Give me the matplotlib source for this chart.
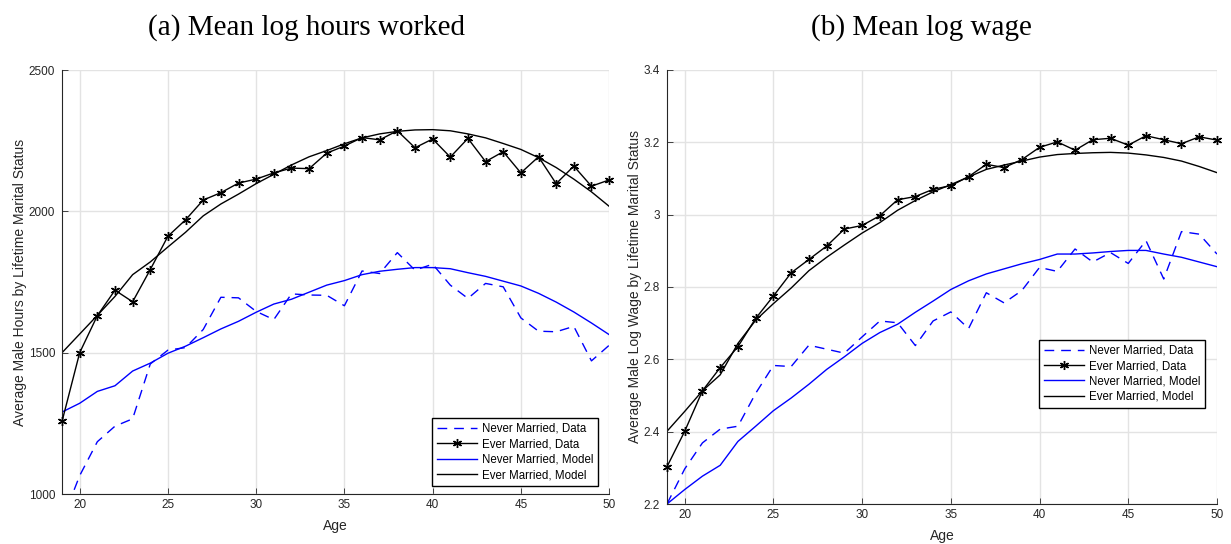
import matplotlib.pyplot as plt
import numpy as np

ages = np.arange(19, 51)

# panel (a): hours worked
hours_never_data = [905, 1065, 1185, 1240, 1266, 1460, 1509, 1518, 1582, 1696, 1694,
                    1646, 1617, 1708, 1704, 1703, 1666, 1789, 1780, 1854, 1792, 1813,
                    1739, 1692, 1745, 1733, 1623, 1576, 1574, 1593, 1471, 1526]
hours_ever_data = [1257, 1500, 1631, 1721, 1680, 1794, 1912, 1970, 2040, 2066, 2100,
                   2114, 2136, 2153, 2151, 2206, 2231, 2261, 2253, 2285, 2225, 2256,
                   2192, 2258, 2176, 2211, 2136, 2193, 2098, 2160, 2089, 2111]
hours_never_model = [1290, 1321, 1363, 1383, 1435, 1463, 1498, 1523, 1553, 1584, 1611,
                     1643, 1672, 1689, 1714, 1739, 1755, 1776, 1788, 1795, 1801, 1801,
                     1797, 1783, 1770, 1753, 1736, 1710, 1679, 1644, 1605, 1564]
hours_ever_model = [1500, 1566, 1632, 1699, 1776, 1821, 1874, 1926, 1984, 2026, 2061,
                    2098, 2131, 2164, 2193, 2215, 2239, 2260, 2274, 2283, 2288, 2289,
                    2285, 2274, 2260, 2240, 2219, 2190, 2155, 2114, 2069, 2018]

# panel (b): log wage
wage_never_data = [2.200, 2.297, 2.369, 2.407, 2.415, 2.506, 2.583, 2.580, 2.639, 2.628,
                   2.617, 2.662, 2.706, 2.701, 2.638, 2.706, 2.731, 2.685, 2.784, 2.756,
                   2.790, 2.854, 2.843, 2.905, 2.869, 2.895, 2.865, 2.928, 2.822, 2.953,
                   2.946, 2.891]
wage_ever_data = [2.303, 2.401, 2.513, 2.577, 2.635, 2.713, 2.775, 2.839, 2.876, 2.913,
                  2.960, 2.970, 2.997, 3.041, 3.050, 3.070, 3.080, 3.105, 3.139, 3.130,
                  3.152, 3.186, 3.201, 3.178, 3.207, 3.211, 3.192, 3.218, 3.207, 3.196,
                  3.215, 3.206]
wage_never_model = [2.200, 2.240, 2.277, 2.307, 2.373, 2.415, 2.458, 2.493, 2.531, 2.572,
                    2.607, 2.644, 2.674, 2.697, 2.730, 2.761, 2.793, 2.817, 2.836, 2.850,
                    2.864, 2.876, 2.891, 2.891, 2.894, 2.898, 2.901, 2.901, 2.891, 2.882,
                    2.869, 2.856]
wage_ever_model = [2.401, 2.456, 2.513, 2.557, 2.644, 2.708, 2.754, 2.797, 2.845, 2.882,
                   2.916, 2.949, 2.978, 3.012, 3.039, 3.063, 3.083, 3.104, 3.125, 3.137,
                   3.148, 3.159, 3.166, 3.169, 3.171, 3.172, 3.170, 3.165, 3.158, 3.148,
                   3.133, 3.116]

labels = ['Never Married, Data', 'Ever Married, Data',
          'Never Married, Model', 'Ever Married, Model']

plt.rcParams['font.family'] = ['Liberation Sans', 'DejaVu Sans']

fig = plt.figure(figsize=(12.31, 5.44), dpi=100)
ax1 = fig.add_axes([0.0504, 0.0919, 0.4444, 0.7794])
ax2 = fig.add_axes([0.5418, 0.0735, 0.4468, 0.7980])


def draw(ax, nd, ed, nm, em):
    ax.plot(ages, nd, color='blue', lw=1.0, dashes=(7, 5), label=labels[0])
    ax.plot(ages, ed, color='black', lw=1.0, marker=(6, 2, 0), ms=6.5, mew=1.0,
            clip_on=False, zorder=3, label=labels[1])
    ax.plot(ages, nm, color='blue', lw=1.0, label=labels[2])
    ax.plot(ages, em, color='black', lw=1.0, label=labels[3])
    ax.set_xlim(19, 50)
    ax.set_xticks([20, 25, 30, 35, 40, 45, 50])
    ax.grid(True, color='#e3e3e3', lw=1.0)
    ax.set_axisbelow(True)
    for s in ['top', 'right']:
        ax.spines[s].set_visible(False)
    for s in ['left', 'bottom']:
        ax.spines[s].set_color('#262626')
        ax.spines[s].set_linewidth(0.8)
    ax.tick_params(direction='in', length=4, width=0.6, color='#262626',
                   labelsize=8.5, labelcolor='#262626')
    ax.tick_params(axis='y', pad=5)
    ax.set_xlabel('Age', fontsize=10, color='#262626', labelpad=6)


legend_kw = dict(fontsize=8.3, frameon=True, fancybox=False, edgecolor='black',
                 framealpha=1, handlelength=3.5, borderpad=0.4, borderaxespad=0,
                 labelspacing=0.3, handletextpad=0.4)

draw(ax1, hours_never_data, hours_ever_data, hours_never_model, hours_ever_model)
ax1.set_ylim(1000, 2500)
ax1.set_yticks([1000, 1500, 2000, 2500])
ax1.set_ylabel('Average Male Hours by Lifetime Marital Status', fontsize=10,
               color='#262626', labelpad=1)
ax1.legend(loc='lower right', bbox_to_anchor=(0.98, 0.019), **legend_kw)

draw(ax2, wage_never_data, wage_ever_data, wage_never_model, wage_ever_model)
ax2.set_ylim(2.2, 3.4)
ax2.set_yticks([2.2, 2.4, 2.6, 2.8, 3.0, 3.2, 3.4])
ax2.set_yticklabels(['2.2', '2.4', '2.6', '2.8', '3', '3.2', '3.4'])
ax2.set_ylabel('Average Male Log Wage by Lifetime Marital Status', fontsize=10,
               color='#262626', labelpad=1)
ax2.legend(loc='center right', bbox_to_anchor=(0.978, 0.30), **legend_kw)

# subfigure captions sit above each panel, centred on the whole subfigure
fig.text(306 / 1231, 1 - 28 / 544, '(a) Mean log hours worked',
         family='Liberation Serif', fontsize=21, ha='center', va='center')
fig.text(921 / 1231, 1 - 28 / 544, '(b) Mean log wage',
         family='Liberation Serif', fontsize=21, ha='center', va='center')

fig.savefig('out.png', dpi=100)
